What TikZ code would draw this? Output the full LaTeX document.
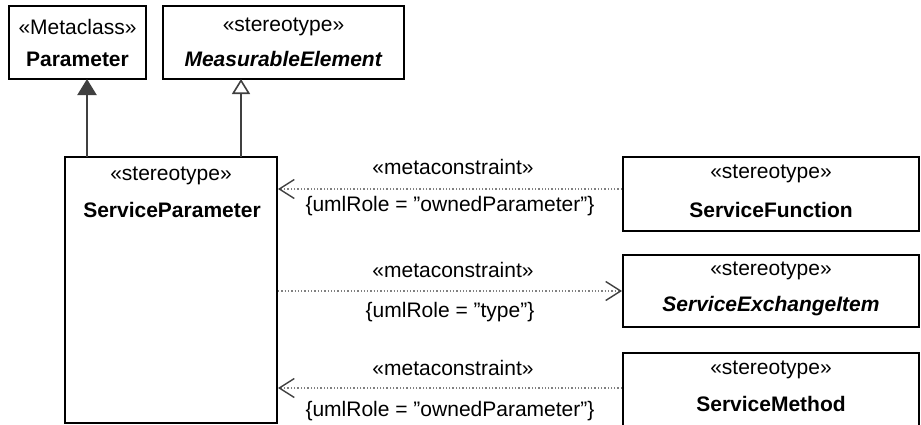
\documentclass[tikz,border=0pt]{standalone}
\usepackage{fontspec}
\setmainfont{Liberation Sans}
\usetikzlibrary{arrows.meta}
\newcommand{\dq}{\char34\relax}
\begin{document}
\begin{tikzpicture}[x=1pt,y=-1pt,
  font=\fontsize{21}{25}\selectfont,
  cls/.style={draw=black,line width=2pt,fill=white,inner sep=0pt},
  txt/.style={inner sep=0pt,anchor=center},
  gen/.style={draw=black!75,line width=2pt},
  dep/.style={draw=black!50,line width=1.3pt,dotted},
  openv/.style={-{Straight Barb[length=15pt,width=19pt,line width=1.4pt,color=black!75]}}
]
\useasboundingbox (0,0) rectangle (921,424);
% boxes
\draw[cls] (9,6) rectangle (146,79);
\coordinate (parB) at (87,79);
\node[txt] (p1) at (77.5,27) {«Metaclass»};
\node[txt] (p2) at (77.5,59) {\textbf{Parameter}};

\draw[cls] (163,6) rectangle (404,79);
\coordinate (meB) at (241,79);
\node[txt] (m1) at (283.5,27) {«stereotype»};
\node[txt] (m2) at (283.5,59) {\textbf{\textit{MeasurableElement}}};

\draw[cls] (65,157) rectangle (277,423);
\node[txt] (s1) at (171,176) {«stereotype»};
\node[txt] (s2) at (172,210) {\textbf{ServiceParameter}};

\draw[cls] (623,157) rectangle (919,231);
\node[txt] (f1) at (771,174) {«stereotype»};
\node[txt] (f2) at (771,210) {\textbf{ServiceFunction}};

\draw[cls] (623,255) rectangle (919,327);
\node[txt] (e1) at (771,271) {«stereotype»};
\node[txt] (e2) at (771,306) {\textbf{\textit{ServiceExchangeItem}}};

\draw[cls] (623,353) rectangle (919,430);
\node[txt] (h1) at (771,370) {«stereotype»};
\node[txt] (h2) at (771,404) {\textbf{ServiceMethod}};

% generalizations
\coordinate (spA) at (87,157);
\coordinate (spB) at (241,157);
\draw[gen,-{Triangle[length=16pt,width=19pt,fill=black!75]}] (spA) -- (parB);
\draw[gen,-{Triangle[open,length=15pt,width=18pt,line width=1.6pt,fill=white]}] (spB) -- (meB);

% metaconstraints
\coordinate (a1s) at (622,189); \coordinate (a1e) at (278,189);
\coordinate (a2s) at (278,291); \coordinate (a2e) at (622,291);
\coordinate (a3s) at (622,388); \coordinate (a3e) at (278,388);
\draw[dep,openv] (a1s) -- (a1e);
\draw[dep,openv] (a2s) -- (a2e);
\draw[dep,openv] (a3s) -- (a3e);

\node[txt] (l1a) at (453,167) {«metaconstraint»};
\node[txt] (l1b) at (450,206) {\{umlRole = \dq ownedParameter\dq\}};
\node[txt] (l2a) at (453,270) {«metaconstraint»};
\node[txt] (l2b) at (450,312) {\{umlRole = \dq type\dq\}};
\node[txt] (l3a) at (453,368) {«metaconstraint»};
\node[txt] (l3b) at (450,411) {\{umlRole = \dq ownedParameter\dq\}};
\end{tikzpicture}
\end{document}
